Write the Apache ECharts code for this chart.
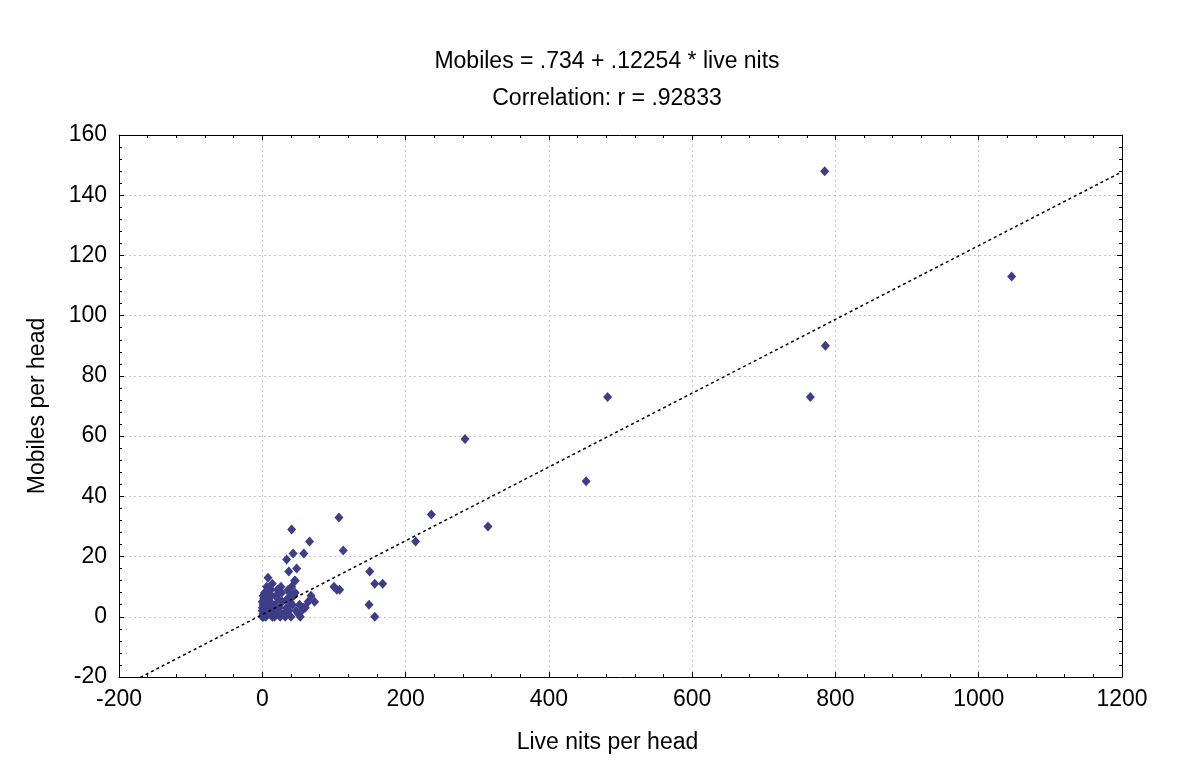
<!DOCTYPE html>
<html>
<head>
<meta charset="utf-8">
<script src="https://cdn.jsdelivr.net/npm/echarts@6/dist/echarts.min.js"></script>
<style>html,body{margin:0;padding:0;background:#fff;}#c{width:1196px;height:771px;}</style>
</head>
<body>
<div id="c"></div>
<script>
// Data
var titleLines = ['Mobiles = .734 + .12254 * live nits', 'Correlation: r = .92833'];
var xName = 'Live nits per head';
var yName = 'Mobiles per head';
var xTicks = [-200, 0, 200, 400, 600, 800, 1000, 1200];
var yTicks = [-20, 0, 20, 40, 60, 80, 100, 120, 140, 160];
var fitIntercept = 0.734;
var fitSlope = 0.12254;

// Live nits per head (x) and Mobiles per head (y)
var liveNits = [
  785, 1046, 786, 765, 482, 283, 452, 236, 315, 214,
  107, 41, 66, 113, 43, 58, 34, 48, 37, 46,
  150, 100, 104, 108, 157, 168, 149, 157, 73, 68, 64, 57,
  0, 1, 0, 2, 1, 0, 2, 1, 3, 0, 1, 2, 3, 3,
  5, 6, 7, 8, 9, 5, 10, 12, 11, 13, 14, 15, 8, 14, 6, 10, 4, 12,
  17, 18, 20, 22, 24, 25, 19, 27, 26, 23, 28, 30, 21,
  32, 34, 35, 37, 38, 40, 41, 42, 44, 45, 36, 39,
  47, 50, 52, 55, 58, 46, 60, 53
];
var mobiles = [
  148, 113, 90, 73, 73, 59, 45, 34, 30, 25,
  33, 29, 25, 22, 21, 21, 19, 16, 15, 12,
  15, 10, 9, 9, 11, 11, 4, 0, 5, 7, 5, 3,
  0, 1, 2, 3, 4, 5, 6, 7, 8, 3, 2, 0, 1, 5,
  0, 2, 4, 6, 8, 7, 1, 3, 5, 7, 0, 2, 13, 11, 10, 9, 6, 9,
  0, 4, 1, 6, 3, 0, 7, 8, 10, 2, 5, 1, 9,
  0, 3, 6, 2, 8, 0, 10, 4, 7, 12, 9, 5,
  2, 1, 4, 2, 3, 8, 3, 0
];

var points = liveNits.map(function (x, i) { return [x, mobiles[i]]; });
var xMin = xTicks[0], xMax = xTicks[xTicks.length - 1];
var fitLine = [
  [xMin, fitIntercept + fitSlope * xMin],
  [xMax, fitIntercept + fitSlope * xMax]
];

var FONT = 'Liberation Sans, Arial, sans-serif';
var chart = echarts.init(document.getElementById('c'), null, { renderer: 'canvas' });

function plain(v) { return String(v); }

function baseAxis(min, max, interval) {
  return {
    type: 'value', min: min, max: max, interval: interval,
    axisLine: { show: true, onZero: false, lineStyle: { color: '#000', width: 1 } },
    axisTick: { show: true, inside: true, length: 5, lineStyle: { color: '#000' } },
    minorTick: { show: true, splitNumber: 5, length: 3, lineStyle: { color: '#000' } },
    splitLine: { show: false },
    axisLabel: { show: false }
  };
}

var xMain = baseAxis(xMin, xMax, xTicks[1] - xTicks[0]);
xMain.position = 'bottom';
xMain.axisLabel = { show: true, color: '#000', fontFamily: FONT, fontSize: 23, margin: 11, formatter: plain };
xMain.splitLine = { show: true, lineStyle: { color: '#c8c8c8', type: [2, 3], width: 1 } };
xMain.name = xName;
xMain.nameLocation = 'middle';
xMain.nameGap = 54;
xMain.nameTextStyle = { color: '#000', fontFamily: FONT, fontSize: 23, padding: [0, 26, 0, 0] };
var xTop = baseAxis(xMin, xMax, xTicks[1] - xTicks[0]);
xTop.position = 'top';

var yMin = yTicks[0], yMax = yTicks[yTicks.length - 1];
var yMain = baseAxis(yMin, yMax, yTicks[1] - yTicks[0]);
yMain.position = 'left';
yMain.axisLabel = { show: true, color: '#000', fontFamily: FONT, fontSize: 23, margin: 12, formatter: plain };
yMain.splitLine = { show: true, lineStyle: { color: '#c8c8c8', type: [2, 3], width: 1 } };
yMain.name = yName;
yMain.nameLocation = 'middle';
yMain.nameGap = 70;
yMain.nameTextStyle = { color: '#000', fontFamily: FONT, fontSize: 23 };
var yRight = baseAxis(yMin, yMax, yTicks[1] - yTicks[0]);
yRight.position = 'right';

chart.setOption({
  backgroundColor: '#fff',
  animation: false,
  title: {
    text: titleLines.join('\n'),
    left: 602, top: 38, textAlign: 'center',
    textStyle: { color: '#000', fontFamily: FONT, fontSize: 23, fontWeight: 'normal', lineHeight: 37 }
  },
  grid: { left: 119, right: 74, top: 135, bottom: 94 },
  xAxis: [xMain, xTop],
  yAxis: [yMain, yRight],
  series: [
    {
      type: 'line', data: fitLine, xAxisIndex: 0, yAxisIndex: 0,
      showSymbol: false, symbol: 'none', clip: true, silent: true,
      lineStyle: { color: '#000', width: 1.5, type: [3, 3] }, z: 3
    },
    {
      type: 'scatter', data: points, xAxisIndex: 0, yAxisIndex: 0,
      symbol: 'diamond', symbolSize: [9, 10], clip: true,
      itemStyle: { color: '#3d3d88', opacity: 1 }, z: 2
    }
  ]
});
</script>
</body>
</html>
